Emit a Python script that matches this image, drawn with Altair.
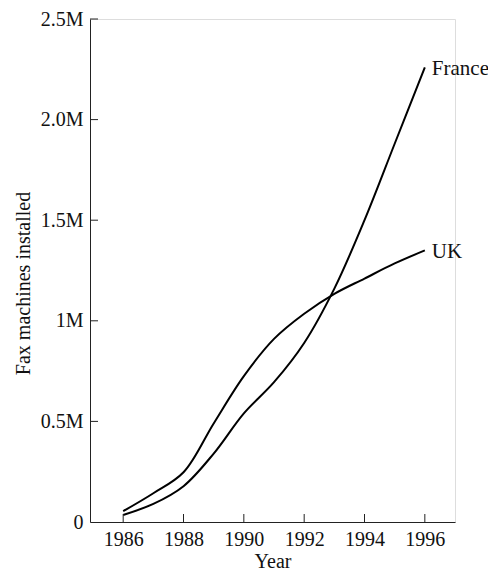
import altair as alt
import pandas as pd

years = [1986, 1987, 1988, 1989, 1990, 1991, 1992, 1993, 1994, 1995, 1996]
france = [0.035, 0.090, 0.178, 0.34, 0.54, 0.695, 0.89, 1.16, 1.50, 1.88, 2.26]
uk = [0.054, 0.143, 0.247, 0.49, 0.725, 0.91, 1.035, 1.134, 1.21, 1.285, 1.35]
series_names = ["France", "UK"]

x_ticks = [1986, 1988, 1990, 1992, 1994, 1996]
y_ticks = [0, 500000, 1000000, 1500000, 2000000, 2500000]
y_tick_labels = ["0", "0.5M", "1M", "1.5M", "2.0M", "2.5M"]

FONT = "Liberation Serif"
W, H = 365, 503

rows = []
for name, vals in zip(series_names, [france, uk]):
    for yr, v in zip(years, vals):
        rows.append({"Year": yr, "value": v * 1e6, "country": name})
df = pd.DataFrame(rows)
last = df[df["Year"] == years[-1]]

label_expr = " : ".join(
    f"datum.value == {v} ? '{l}'" for v, l in zip(y_ticks, y_tick_labels)
) + " : ''"

xscale = alt.Scale(domain=[1984.9, 1997.0], nice=False, zero=False)
yscale = alt.Scale(domain=[0, 2500000], nice=False)

x_enc = alt.X(
    "Year:Q",
    scale=xscale,
    axis=alt.Axis(
        values=x_ticks, format="d", ticks=False, grid=False,
        domainColor="#222", domainWidth=1,
        labelFont=FONT, labelFontSize=20, labelColor="#111", labelPadding=7,
        title="Year", titleFont=FONT, titleFontSize=20, titleFontWeight="normal",
        titleColor="#111", titleY=45, titleBaseline="alphabetic",
    ),
)
y_enc = alt.Y(
    "value:Q",
    scale=yscale,
    axis=alt.Axis(
        values=y_ticks, labelExpr=label_expr, ticks=False, grid=False,
        domainColor="#222", domainWidth=1,
        labelFont=FONT, labelFontSize=20, labelColor="#111", labelPadding=7,
        title="Fax machines installed", titleFont=FONT, titleFontSize=20,
        titleFontWeight="normal", titleColor="#111",
        titleX=-67, titleY=264, titleAngle=270, titleAlign="center",
        titleBaseline="middle",
    ),
)

lines = alt.Chart(df).mark_line(
    color="black", strokeWidth=2, interpolate="catmull-rom"
).encode(x=x_enc, y=y_enc, detail="country:N")

labels = alt.Chart(last).mark_text(
    align="left", baseline="middle", dx=7, dy=2,
    font=FONT, fontSize=21, color="#111"
).encode(x=alt.X("Year:Q", scale=xscale), y=alt.Y("value:Q", scale=yscale), text="country:N")

xt = alt.Chart(pd.DataFrame({"Year": x_ticks})).mark_rule(color="#222", strokeWidth=1).encode(
    x=alt.X("Year:Q", scale=xscale), y=alt.value(H), y2=alt.value(H - 8)
)
yt = alt.Chart(pd.DataFrame({"value": y_ticks[1:]})).mark_rule(color="#222", strokeWidth=1).encode(
    y=alt.Y("value:Q", scale=yscale), x=alt.value(0), x2=alt.value(8)
)

chart = alt.layer(lines, labels, xt, yt).properties(
    width=W, height=H,
    autosize=alt.AutoSizeParams(type="none"),
    padding={"left": 82, "top": 11, "right": 33, "bottom": 51},
).configure_view(stroke=None).configure(background="white")

chart.save("out.html", embed_options={"renderer": "svg", "actions": False})
